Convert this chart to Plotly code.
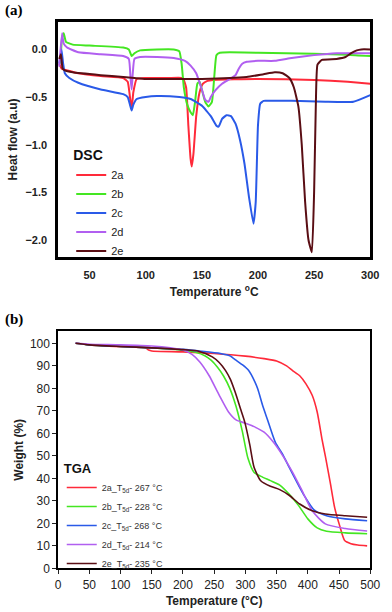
import plotly.graph_objects as go

# ---- DSC data (panel a) ----
dsc_names = ['2a', '2b', '2c', '2d', '2e']
dsc_2a_t = [23, 25, 27, 30, 40, 60, 80, 84, 86, 87.5, 89, 92, 100, 120, 133, 136, 138, 140, 141, 142.5, 145, 148, 151, 155, 160, 200, 250, 280, 300]
dsc_2a_h = [-0.15, -0.2, -0.21, -0.22, -0.25, -0.28, -0.3, -0.34, -0.5, -0.62, -0.45, -0.31, -0.3, -0.3, -0.3, -0.4, -0.8, -1.15, -1.23, -1.1, -0.7, -0.45, -0.36, -0.33, -0.32, -0.31, -0.32, -0.34, -0.36]
dsc_2b_t = [24, 25.5, 27, 29, 35, 50, 80, 85, 87.5, 90, 95, 110, 125, 130, 132, 134, 137, 140, 142, 144, 146, 148, 150, 153, 156, 159, 161, 163, 166, 175, 200, 250, 280, 300]
dsc_2b_h = [-0.15, 0.12, 0.17, 0.08, 0.05, 0.04, 0.02, 0.0, -0.07, -0.04, -0.01, 0.0, 0.0, -0.02, -0.15, -0.4, -0.58, -0.66, -0.69, -0.55, -0.36, -0.34, -0.42, -0.55, -0.6, -0.55, -0.3, -0.06, -0.035, -0.03, -0.035, -0.045, -0.055, -0.07]
dsc_2c_t = [23, 25, 26.5, 28, 32, 40, 60, 80, 84, 86, 87.5, 89, 92, 100, 110, 130, 140, 150, 158, 163, 165, 168, 172, 176, 180, 184, 188, 192, 196, 198, 200, 202, 205, 210, 230, 260, 285, 300]
dsc_2c_h = [-0.15, 0.0, -0.15, -0.25, -0.3, -0.35, -0.42, -0.47, -0.5, -0.58, -0.64, -0.58, -0.52, -0.5, -0.49, -0.5, -0.52, -0.59, -0.7, -0.8, -0.81, -0.73, -0.69, -0.7, -0.78, -0.95, -1.2, -1.55, -1.83, -1.6, -0.8, -0.57, -0.54, -0.54, -0.54, -0.55, -0.55, -0.48]
dsc_2d_t = [23, 25.5, 27, 30, 40, 60, 80, 85, 86.5, 87.5, 88.5, 90, 95, 110, 125, 135, 140, 145, 150, 153, 156, 158, 162, 168, 175, 180, 183, 186, 190, 200, 215, 230, 250, 270, 300]
dsc_2d_h = [-0.18, 0.17, 0.06, 0.02, -0.03, -0.05, -0.07, -0.1, -0.3, -0.42, -0.25, -0.1, -0.08, -0.08, -0.09, -0.12, -0.17, -0.25, -0.42, -0.53, -0.55, -0.5, -0.43, -0.36, -0.31, -0.27, -0.2, -0.15, -0.13, -0.12, -0.12, -0.09, -0.06, -0.04, -0.04]
dsc_2e_t = [23, 24.5, 26, 28, 35, 60, 80, 90, 100, 150, 190, 205, 215, 222, 228, 232, 236, 239, 242, 245, 248, 250, 251.5, 253, 257, 270, 278, 283, 288, 292, 300]
dsc_2e_h = [-0.1, -0.05, -0.2, -0.22, -0.24, -0.27, -0.29, -0.3, -0.31, -0.31, -0.29, -0.26, -0.24, -0.25, -0.3, -0.4, -0.6, -1.0, -1.6, -2.0, -2.13, -1.5, -0.6, -0.16, -0.11, -0.1, -0.08, -0.04, -0.01, 0.0, 0.0]

# ---- TGA data (panel b) ----
tga_names = ['2a_T<sub>5d</sub>- 267 °C', '2b_T<sub>5d</sub>- 228 °C', '2c_T<sub>5d</sub>- 268 °C',
             '2d_T<sub>5d</sub>- 214 °C', '2e_T<sub>5d</sub>- 235 °C']
tga_2a_t = [28, 50, 100, 140, 145, 150, 200, 250, 300, 330, 350, 366, 376, 387, 397, 407, 415, 423, 428, 436, 443, 451, 459, 469, 480, 495]
tga_2a_w = [100, 99.3, 98.5, 98, 97, 96.6, 96.2, 95.5, 94.3, 93.2, 92.2, 90, 87.8, 85.6, 82, 76.9, 69.5, 57, 50, 38, 27, 19, 12.4, 11, 10.4, 10]
tga_2b_t = [28, 50, 100, 150, 200, 220, 235, 245, 255, 265, 275, 285, 295, 304, 314, 325, 340, 355, 370, 385, 400, 415, 430, 460, 495]
tga_2b_w = [100, 99.3, 98.6, 98, 97, 96, 94.5, 92.5, 89.5, 85.5, 80, 72, 61, 49, 42.6, 40.9, 39, 37, 33, 28, 22, 18, 16.5, 15.8, 15.4]
tga_2c_t = [28, 50, 100, 150, 200, 230, 260, 275, 285, 295, 305, 315, 320, 328, 335, 348, 360, 370, 385, 395, 410, 430, 460, 495]
tga_2c_w = [100, 99.3, 98.6, 98, 97.3, 96.5, 95.5, 94.5, 92.5, 90.5, 88, 83, 79.6, 72, 66.4, 56, 50.5, 45, 37, 32, 26, 23.4, 22, 21.2]
tga_2d_t = [28, 50, 100, 150, 180, 200, 215, 227, 242, 258, 273, 285, 300, 314, 330, 345, 360, 375, 390, 407, 428, 460, 495]
tga_2d_w = [100, 99.6, 99.3, 98.8, 98, 97, 95, 91.7, 85.6, 77, 69.5, 66, 64.5, 63, 60.5, 56, 50, 43, 35, 25.6, 19.8, 17.7, 16.6]
tga_2e_t = [28, 50, 100, 150, 200, 225, 247, 258, 268, 276, 284, 292, 299, 307, 314, 325, 340, 355, 370, 387, 407, 428, 460, 495]
tga_2e_w = [100, 99.3, 98.6, 98, 97.2, 96.5, 94, 91.5, 88, 84, 78, 71, 65, 55, 44.8, 38.8, 36.5, 35, 32.5, 28.6, 25.6, 24.2, 23.4, 22.7]

colors = ['#ff2a3a', '#44e622', '#2a5ae8', '#b15ff0', '#5a0e14']

dsc_t = [dsc_2a_t, dsc_2b_t, dsc_2c_t, dsc_2d_t, dsc_2e_t]
dsc_h = [dsc_2a_h, dsc_2b_h, dsc_2c_h, dsc_2d_h, dsc_2e_h]
tga_t = [tga_2a_t, tga_2b_t, tga_2c_t, tga_2d_t, tga_2e_t]
tga_w = [tga_2a_w, tga_2b_w, tga_2c_w, tga_2d_w, tga_2e_w]

fig = go.Figure()

for i in range(5):
    fig.add_trace(go.Scatter(x=dsc_t[i], y=dsc_h[i], mode='lines', name=dsc_names[i],
                             line=dict(color=colors[i], width=2, shape='spline', smoothing=0.4),
                             xaxis='x', yaxis='y', legend='legend'))
for i in range(5):
    fig.add_trace(go.Scatter(x=tga_t[i], y=tga_w[i], mode='lines', name=tga_names[i],
                             line=dict(color=colors[i], width=1.6, shape='spline', smoothing=0.6),
                             xaxis='x2', yaxis='y2', legend='legend2'))

font = 'Liberation Sans, Arial, sans-serif'

fig.update_layout(
    width=392, height=612,
    margin=dict(l=0, r=0, t=0, b=0),
    paper_bgcolor='white', plot_bgcolor='white',
    font=dict(family=font, color='#222'),
    showlegend=True,
    xaxis=dict(domain=[0.1454, 0.969], anchor='y', range=[22, 300], tickvals=[50, 100, 150, 200, 250, 300],
               showgrid=False, zeroline=False, showline=True, mirror=True, linecolor='black', linewidth=2.5,
               ticks='', ticklabelstandoff=6, tickfont=dict(size=11, color='#222', weight='bold'),
               title=dict(text='<b>Temperature <sup>o</sup>C</b>', font=dict(size=12, color='#222'), standoff=8)),
    yaxis=dict(domain=[0.575, 0.964], anchor='x', range=[-2.18, 0.29], tickvals=[-2.0, -1.5, -1.0, -0.5, 0.0],
               tickformat='.1f', showgrid=False, zeroline=False, showline=True, mirror=True, linecolor='black',
               linewidth=2.5, ticks='', ticklabelstandoff=6, tickfont=dict(size=11, color='#222', weight='bold'),
               title=dict(text='<b>Heat flow (a.u)</b>', font=dict(size=12, color='#222'), standoff=6)),
    xaxis2=dict(domain=[0.1454, 0.969], anchor='y2', range=[0, 500], dtick=50,
                showgrid=False, zeroline=False, showline=True, mirror=True, linecolor='black', linewidth=1.5,
                ticks='outside', ticklen=4, tickcolor='#222', tickfont=dict(size=12, color='#222'),
                title=dict(text='<b>Temperature (°C)</b>', font=dict(size=12, color='#222'), standoff=6)),
    yaxis2=dict(domain=[0.0605, 0.4526], anchor='x2', range=[0, 105.4], dtick=10,
                showgrid=False, zeroline=False, showline=True, mirror=True, linecolor='black', linewidth=1.5,
                ticks='outside', ticklen=4, tickcolor='#222', tickfont=dict(size=12, color='#222'),
                title=dict(text='<b>Weight (%)</b>', font=dict(size=12, color='#222'), standoff=4)),
    legend=dict(x=0.18, y=0.765, xanchor='left', yanchor='top', bgcolor='rgba(0,0,0,0)',
                title=dict(text='<b>DSC</b>', font=dict(size=14, color='#111')),
                font=dict(size=11, color='#222'), itemwidth=30, tracegroupgap=0),
    legend2=dict(x=0.155, y=0.246, xanchor='left', yanchor='top', bgcolor='rgba(0,0,0,0)',
                 title=dict(text='<b>TGA</b>', font=dict(size=13, color='#111')),
                 font=dict(size=9, color='#333'), itemwidth=30, tracegroupgap=0),
    annotations=[
        dict(text='<b>(a)</b>', x=0, y=1.0, xref='paper', yref='paper', xanchor='left', yanchor='top',
             showarrow=False, font=dict(family='Liberation Serif, serif', size=15, color='black')),
        dict(text='<b>(b)</b>', x=0, y=0.489, xref='paper', yref='paper', xanchor='left', yanchor='top',
             showarrow=False, font=dict(family='Liberation Serif, serif', size=15, color='black')),
    ],
)

# drop the browser's default 8px body margin so the figure sits at the page origin
fig.write_html("out.html", config={'displayModeBar': False},
               post_script="document.body.style.margin='0';")
